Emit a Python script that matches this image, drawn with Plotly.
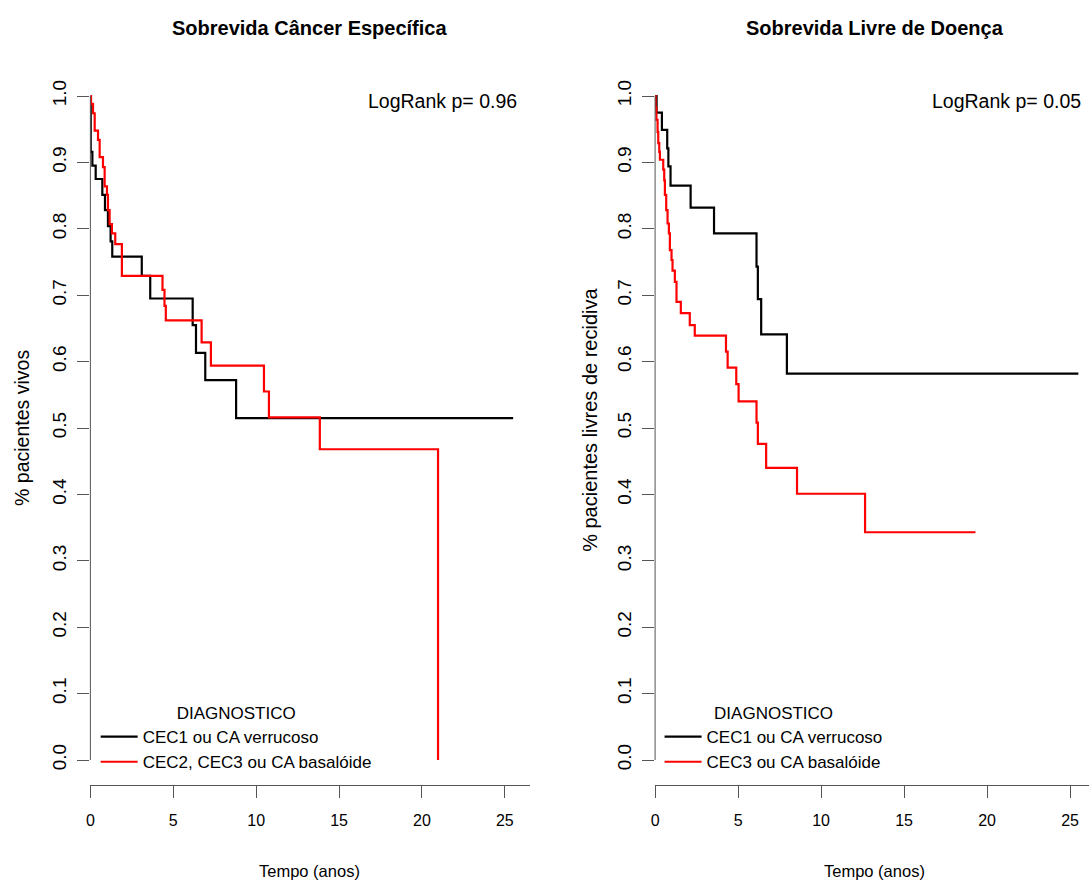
import plotly.graph_objects as go

# ---------------- data ----------------
# Sobrevida Cancer Especifica
cse_t_g1 = [0, 0.02, 0.12, 0.32, 0.72, 0.88, 1.06, 1.22, 1.32, 3.10, 3.61, 6.17, 6.37, 6.93, 8.79, 25.5]
cse_s_g1 = [1.0, 0.916, 0.895, 0.875, 0.851, 0.828, 0.804, 0.781, 0.758, 0.729, 0.695, 0.655, 0.613, 0.572, 0.515, 0.515]
cse_t_g2 = [0, 0.04, 0.16, 0.26, 0.46, 0.56, 0.76, 0.86, 1.0, 1.06, 1.16, 1.30, 1.50, 1.90, 4.35, 4.47, 4.55,
            6.71, 7.27, 10.47, 10.77, 13.84, 20.97]
cse_s_g2 = [1.0, 0.988, 0.974, 0.948, 0.934, 0.908, 0.893, 0.864, 0.851, 0.828, 0.807, 0.793, 0.777, 0.729,
            0.708, 0.684, 0.662, 0.629, 0.594, 0.555, 0.516, 0.468, 0.0]

# Sobrevida Livre de Doenca
sld_t_g1 = [0, 0.09, 0.41, 0.73, 0.80, 0.93, 2.14, 3.55, 6.11, 6.19, 6.39, 7.94, 25.5]
sld_s_g1 = [1.0, 0.975, 0.949, 0.921, 0.894, 0.865, 0.832, 0.793, 0.743, 0.694, 0.641, 0.582, 0.582]
sld_t_g2 = [0, 0.03, 0.08, 0.15, 0.19, 0.25, 0.29, 0.49, 0.55, 0.59, 0.67, 0.75, 0.83, 0.89, 0.99, 1.05,
            1.19, 1.29, 1.55, 2.09, 2.39, 4.27, 4.37, 4.89, 5.03, 6.11, 6.19, 6.69, 8.55, 12.65, 19.3]
sld_s_g2 = [1.0, 0.982, 0.964, 0.946, 0.929, 0.916, 0.904, 0.889, 0.873, 0.851, 0.828, 0.808, 0.793, 0.768,
            0.753, 0.737, 0.720, 0.690, 0.673, 0.655, 0.639, 0.615, 0.591, 0.566, 0.540, 0.508, 0.476,
            0.440, 0.401, 0.343, 0.343]

titles = ["Sobrevida Câncer Específica", "Sobrevida Livre de Doença"]
ytitles = ["% pacientes vivos", "% pacientes livres de recidiva"]
xtitle = "Tempo (anos)"
pvalues = ["LogRank p= 0.96", "LogRank p= 0.05"]
legend_title = "DIAGNOSTICO"
names_left = ["CEC1 ou CA verrucoso", "CEC2, CEC3 ou CA basalóide"]
names_right = ["CEC1 ou CA verrucoso", "CEC3 ou CA basalóide"]
x_ticks = [0, 5, 10, 15, 20, 25]
y_ticks = [0.0, 0.1, 0.2, 0.3, 0.4, 0.5, 0.6, 0.7, 0.8, 0.9, 1.0]
y_ticktext = ["%.1f" % v for v in y_ticks]

# ---------------- layout helpers ----------------
W, H = 1089, 882
FONT = "Liberation Sans, Arial, sans-serif"
AX = "#555555"
def px(x):
    return x / W
def py(y):
    return 1 - y / H

fig = go.Figure()
LW = 2.2
fig.add_trace(go.Scatter(x=cse_t_g1, y=cse_s_g1, mode="lines", line=dict(color="black", width=LW, shape="hv"),
                         name=names_left[0], xaxis="x", yaxis="y", legend="legend"))
fig.add_trace(go.Scatter(x=cse_t_g2, y=cse_s_g2, mode="lines", line=dict(color="#FF0000", width=LW, shape="hv"),
                         name=names_left[1], xaxis="x", yaxis="y", legend="legend"))
fig.add_trace(go.Scatter(x=sld_t_g1, y=sld_s_g1, mode="lines", line=dict(color="black", width=LW, shape="hv"),
                         name=names_right[0], xaxis="x2", yaxis="y2", legend="legend2"))
fig.add_trace(go.Scatter(x=sld_t_g2, y=sld_s_g2, mode="lines", line=dict(color="#FF0000", width=LW, shape="hv"),
                         name=names_right[1], xaxis="x2", yaxis="y2", legend="legend2"))

ydom = [py(785), py(69.4)]
yrange = [-(785 - 760) / 664, 1 + (96 - 69.4) / 664]

xcommon = dict(tickmode="array", tickvals=x_ticks, ticks="outside", ticklen=12, tickcolor=AX, tickwidth=1,
               showline=True, linecolor=AX, linewidth=1, showgrid=False, zeroline=False,
               tickfont=dict(family=FONT, size=16, color="black"), ticklabelstandoff=9)
ycommon = dict(tickmode="array", tickvals=y_ticks, ticktext=y_ticktext, ticks="outside", ticklen=12,
               tickcolor=AX, tickwidth=1, showline=False, showgrid=False, zeroline=False, tickangle=-90,
               tickfont=dict(family=FONT, size=19, color="black"), range=yrange, domain=ydom,
               ticklabelstandoff=4)

leg_common = dict(xanchor="left", yanchor="top", bgcolor="rgba(0,0,0,0)", itemwidth=37,
                  font=dict(family=FONT, size=17, color="black"),
                  title=dict(text=legend_title, side="top center", font=dict(family=FONT, size=17, color="black")))

fig.update_layout(
    width=W, height=H, margin=dict(l=0, r=0, t=0, b=0),
    paper_bgcolor="white", plot_bgcolor="white",
    xaxis=dict(domain=[px(86.7), px(528)], range=[0, (528 - 86.7) / 16.64], anchor="y", **xcommon),
    yaxis=dict(anchor="x", **ycommon),
    xaxis2=dict(domain=[px(653.5), 1.0], range=[0, (1089 - 653.5) / 16.66], anchor="y2", **xcommon),
    yaxis2=dict(anchor="x2", **ycommon),
    legend=dict(x=px(92), y=py(697), **leg_common),
    legend2=dict(x=px(658), y=py(697), **leg_common),
)

# y axis lines spanning 0..1 only
for xr, yr in (("x domain", "y"), ("x2 domain", "y2")):
    fig.add_shape(type="line", xref=xr, yref=yr, x0=0, x1=0, y0=y_ticks[0], y1=y_ticks[-1],
                  line=dict(color=AX, width=1))

ann = []
for cx, t in ((307, titles[0]), (874, titles[1])):
    ann.append(dict(x=px(cx), y=py(28), xref="paper", yref="paper", text="<b>%s</b>" % t, showarrow=False,
                    xanchor="center", yanchor="middle", font=dict(family=FONT, size=20, color="black")))
for cx in (307, 874):
    ann.append(dict(x=px(cx), y=py(871), xref="paper", yref="paper", text=xtitle, showarrow=False,
                    xanchor="center", yanchor="middle", font=dict(family=FONT, size=16.5, color="black")))
for cx, cy, t, fs in ((18, 428, ytitles[0], 19.5), (588, 420, ytitles[1], 20)):
    ann.append(dict(x=px(cx), y=py(cy), xref="paper", yref="paper", text=t, showarrow=False, textangle=-90,
                    xanchor="center", yanchor="middle", font=dict(family=FONT, size=fs, color="black")))
for rx, t in ((517, pvalues[0]), (1083, pvalues[1])):
    ann.append(dict(x=px(rx), y=py(101), xref="paper", yref="paper", text=t, showarrow=False,
                    xanchor="right", yanchor="middle", font=dict(family=FONT, size=19.5, color="black")))
fig.update_layout(annotations=ann)

fig.write_html("out.html", config={"displayModeBar": False},
               post_script="document.body.style.margin='0';document.body.style.overflow='hidden';")
